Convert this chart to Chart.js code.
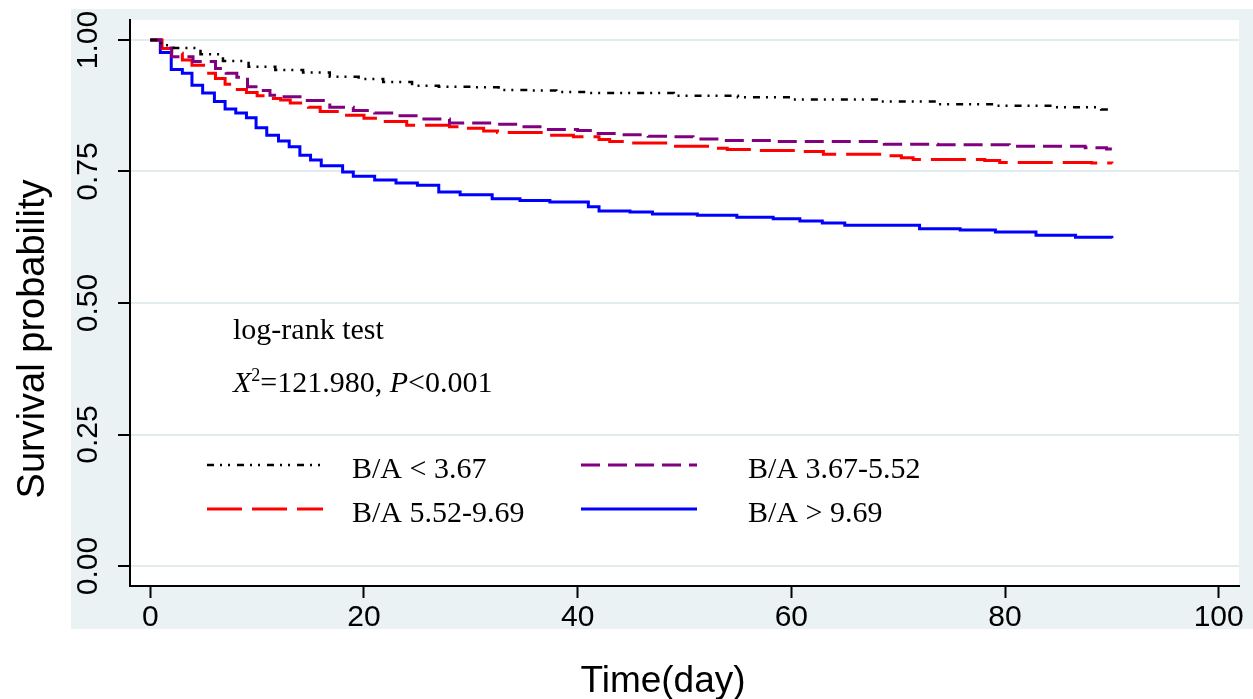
<!DOCTYPE html>
<html>
<head>
<meta charset="utf-8">
<script src="https://cdn.jsdelivr.net/npm/chart.js@4.4.1/dist/chart.umd.min.js"></script>
<style>
  body { margin: 0; background: #fff; }
</style>
</head>
<body>
<canvas id="kmchart" width="1253" height="699"></canvas>
<script>
// axis ticks
const xTicks = [0, 20, 40, 60, 80, 100];
const yTicks = [0, 0.25, 0.5, 0.75, 1];

// group names (legend order)
const groupLabels = ['B/A < 3.67', 'B/A 3.67-5.52', 'B/A 5.52-9.69', 'B/A > 9.69'];

// Kaplan-Meier steps: time (day) and survival after the step
const timeLow = [0, 1, 2.2, 4.7, 6.8, 9.2, 11.7, 14.3, 16.8, 19.5, 21.8, 24.5, 27, 30, 32.6, 35.4, 38, 41, 49, 55, 60, 68, 73.7, 79, 84.6, 89, 90];
const survLow = [1, 0.99, 0.985, 0.973, 0.960, 0.949, 0.943, 0.938, 0.930, 0.926, 0.920, 0.913, 0.911, 0.910, 0.905, 0.904, 0.901, 0.899, 0.894, 0.891, 0.887, 0.883, 0.878, 0.875, 0.872, 0.868, 0.867];

const timeMid = [0, 1, 2, 4, 6.1, 7.1, 8.1, 9.1, 10.3, 11.2, 12.3, 14.3, 16.8, 19, 21, 23.1, 25.3, 28, 32, 34.6, 37, 40, 41.4, 43.7, 46.6, 48.7, 50.8, 53.2, 58.3, 68.7, 73.7, 80.4, 87.5, 89.5, 90];
const survMid = [1, 0.985, 0.968, 0.959, 0.946, 0.937, 0.929, 0.911, 0.904, 0.895, 0.892, 0.885, 0.872, 0.866, 0.861, 0.856, 0.850, 0.842, 0.840, 0.835, 0.830, 0.828, 0.822, 0.820, 0.817, 0.816, 0.812, 0.809, 0.807, 0.802, 0.801, 0.798, 0.795, 0.793, 0.793];

const timeHigh = [0, 1.1, 2, 3, 3.9, 5.3, 6.1, 7, 8, 9, 10, 11, 12.2, 13.1, 14.8, 15.9, 18.1, 20, 21.7, 24, 28, 29.6, 31.2, 32.5, 37.4, 39.6, 42, 43, 45, 48.9, 52.9, 54, 56.8, 60.8, 63, 68.9, 70.3, 71.4, 78.1, 79.5, 88.1, 90];
const survHigh = [1, 0.984, 0.975, 0.962, 0.952, 0.937, 0.927, 0.916, 0.906, 0.900, 0.894, 0.889, 0.886, 0.880, 0.872, 0.864, 0.857, 0.851, 0.845, 0.838, 0.835, 0.832, 0.827, 0.824, 0.819, 0.816, 0.811, 0.807, 0.804, 0.798, 0.794, 0.792, 0.790, 0.788, 0.783, 0.780, 0.776, 0.773, 0.771, 0.767, 0.766, 0.765];

const timeTop = [0, 0.94, 1.96, 3, 3.9, 4.9, 6, 7, 8, 9, 9.9, 10.9, 12, 13, 14, 15, 16, 18, 19, 21, 23, 25, 27, 29, 32, 34.6, 37.4, 41, 42, 44.9, 47, 51.2, 54.9, 58.3, 60.8, 62.9, 65, 72, 75.8, 79.1, 82.9, 86.6, 90];
const survTop = [1, 0.976, 0.944, 0.937, 0.914, 0.899, 0.883, 0.869, 0.861, 0.852, 0.833, 0.819, 0.808, 0.797, 0.781, 0.772, 0.761, 0.749, 0.741, 0.734, 0.728, 0.724, 0.711, 0.706, 0.698, 0.695, 0.692, 0.683, 0.675, 0.673, 0.669, 0.667, 0.663, 0.660, 0.656, 0.652, 0.648, 0.641, 0.639, 0.635, 0.629, 0.625, 0.623];

function pts(times, surv) {
  return times.map((t, i) => ({ x: t, y: surv[i] }));
}

Chart.defaults.font.family = "'Liberation Sans', Arial, sans-serif";
Chart.defaults.color = '#000';

const serif = "'Liberation Serif', 'Times New Roman', serif";

const paperPlugin = {
  id: 'paper',
  beforeDraw(chart) {
    const ctx = chart.ctx;
    const a = chart.chartArea;
    ctx.save();
    ctx.fillStyle = '#fff';
    ctx.fillRect(0, 0, chart.width, chart.height);
    ctx.fillStyle = '#eaf2f3';
    ctx.fillRect(71, 9, 1182, 620);
    ctx.fillStyle = '#fff';
    ctx.fillRect(a.left, a.top, a.right - a.left, a.bottom - a.top);
    ctx.restore();
  },
  afterDraw(chart) {
    const ctx = chart.ctx;
    ctx.save();
    ctx.fillStyle = '#000';

    // axis titles
    ctx.font = "37px 'Liberation Sans', Arial, sans-serif";
    ctx.textAlign = 'center';
    ctx.textBaseline = 'alphabetic';
    ctx.fillText('Time(day)', 663, 692);
    ctx.save();
    ctx.font = "38px 'Liberation Sans', Arial, sans-serif";
    ctx.translate(44, 339);
    ctx.rotate(-Math.PI / 2);
    ctx.fillText('Survival probability', 0, 0);
    ctx.restore();

    // log-rank annotation
    ctx.textAlign = 'left';
    ctx.font = '30px ' + serif;
    ctx.fillText('log-rank test', 233, 339);
    let x = 233;
    const y = 392;
    const pieces = [
      { text: 'X', font: 'italic 30px ' + serif, dy: 0 },
      { text: '2', font: '18px ' + serif, dy: -11 },
      { text: '=121.980, ', font: '30px ' + serif, dy: 0 },
      { text: 'P', font: 'italic 30px ' + serif, dy: 0 },
      { text: '<0.001', font: '30px ' + serif, dy: 0 }
    ];
    pieces.forEach(p => {
      ctx.font = p.font;
      ctx.fillText(p.text, x, y + p.dy);
      x += ctx.measureText(p.text).width;
    });

    // legend, two columns
    const slots = [
      { lx: 207, tx: 352, ly: 465, ty: 478 },
      { lx: 581, tx: 748, ly: 465, ty: 478 },
      { lx: 207, tx: 352, ly: 509, ty: 522 },
      { lx: 581, tx: 748, ly: 509, ty: 522 }
    ];
    chart.data.datasets.forEach((ds, i) => {
      const s = slots[i];
      ctx.save();
      ctx.strokeStyle = ds.borderColor;
      ctx.lineWidth = ds.borderWidth;
      ctx.setLineDash(ds.borderDash || []);
      ctx.beginPath();
      ctx.moveTo(s.lx, s.ly);
      ctx.lineTo(s.lx + 116, s.ly);
      ctx.stroke();
      ctx.restore();
      ctx.font = '30px ' + serif;
      ctx.fillText(ds.label, s.tx, s.ty);
    });
    ctx.restore();
  }
};

const data = {
  datasets: [
    {
      label: groupLabels[0],
      data: pts(timeLow, survLow),
      borderColor: '#000000',
      borderWidth: 2.5,
      borderDash: [7, 6, 2, 6, 2, 7]
    },
    {
      label: groupLabels[1],
      data: pts(timeMid, survMid),
      borderColor: '#800080',
      borderWidth: 3,
      borderDash: [19, 8]
    },
    {
      label: groupLabels[2],
      data: pts(timeHigh, survHigh),
      borderColor: '#ff0000',
      borderWidth: 3,
      borderDash: [35, 10]
    },
    {
      label: groupLabels[3],
      data: pts(timeTop, survTop),
      borderColor: '#0000ff',
      borderWidth: 3
    }
  ]
};

const config = {
  type: 'line',
  data: data,
  options: {
    responsive: false,
    animation: false,
    layout: {
      padding: { top: 20, right: 14, left: 0, bottom: 0 }
    },
    elements: {
      point: { radius: 0 },
      line: { stepped: true, fill: false, tension: 0 }
    },
    plugins: {
      legend: { display: false },
      tooltip: { enabled: false }
    },
    scales: {
      x: {
        type: 'linear',
        min: -1.9,
        max: 101.9,
        afterBuildTicks(scale) {
          scale.ticks = xTicks.map(v => ({ value: v }));
        },
        afterFit(scale) {
          scale.height = 113;
        },
        ticks: {
          font: { size: 30 },
          color: '#000',
          padding: 2
        },
        grid: {
          drawOnChartArea: false,
          tickLength: 12,
          tickWidth: 2,
          tickColor: '#000'
        },
        border: { color: '#000', width: 2 }
      },
      y: {
        type: 'linear',
        min: -0.038,
        max: 1.038,
        afterBuildTicks(scale) {
          scale.ticks = yTicks.map(v => ({ value: v }));
        },
        afterFit(scale) {
          scale.width = 130;
        },
        ticks: {
          font: { size: 30 },
          color: '#000',
          padding: 0,
          minRotation: 90,
          maxRotation: 90,
          crossAlign: 'center',
          callback: v => v.toFixed(2)
        },
        grid: {
          color: '#e2ebed',
          lineWidth: 2,
          tickLength: 12,
          tickWidth: 2,
          tickColor: '#000'
        },
        border: { color: '#000', width: 2 }
      }
    }
  },
  plugins: [paperPlugin]
};

const ctx = document.getElementById('kmchart').getContext('2d');
const chart = new Chart(ctx, config);
</script>
</body>
</html>
